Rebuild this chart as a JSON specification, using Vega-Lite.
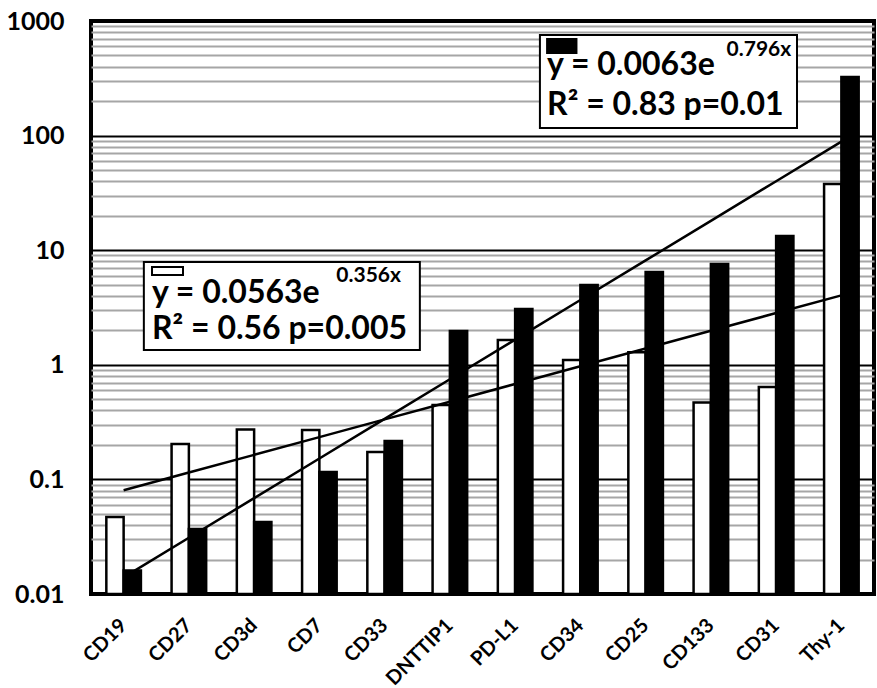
{
  "$schema": "https://vega.github.io/schema/vega-lite/v6.json",
  "width": 783,
  "height": 573,
  "autosize": {"type": "none"},
  "padding": {"left": 91, "top": 21, "right": 3, "bottom": 94},
  "background": "white",
  "config": {"view": {"stroke": "black", "strokeWidth": 4}, "font": "Lato"},
  "datasets": {
    "bars": [
      {"marker": "CD19", "series": "white", "value": 0.047},
      {"marker": "CD19", "series": "black", "value": 0.016},
      {"marker": "CD27", "series": "white", "value": 0.204},
      {"marker": "CD27", "series": "black", "value": 0.037},
      {"marker": "CD3d", "series": "white", "value": 0.272},
      {"marker": "CD3d", "series": "black", "value": 0.0425},
      {"marker": "CD7", "series": "white", "value": 0.27},
      {"marker": "CD7", "series": "black", "value": 0.116},
      {"marker": "CD33", "series": "white", "value": 0.173},
      {"marker": "CD33", "series": "black", "value": 0.216},
      {"marker": "DNTTIP1", "series": "white", "value": 0.446},
      {"marker": "DNTTIP1", "series": "black", "value": 1.97},
      {"marker": "PD-L1", "series": "white", "value": 1.645},
      {"marker": "PD-L1", "series": "black", "value": 3.07},
      {"marker": "CD34", "series": "white", "value": 1.1},
      {"marker": "CD34", "series": "black", "value": 4.97},
      {"marker": "CD25", "series": "white", "value": 1.29},
      {"marker": "CD25", "series": "black", "value": 6.45},
      {"marker": "CD133", "series": "white", "value": 0.47},
      {"marker": "CD133", "series": "black", "value": 7.58},
      {"marker": "CD31", "series": "white", "value": 0.64},
      {"marker": "CD31", "series": "black", "value": 13.3},
      {"marker": "Thy-1", "series": "white", "value": 37.8},
      {"marker": "Thy-1", "series": "black", "value": 324}
    ],
    "trend": [
      {"marker": "CD19", "series": "white", "value": 0.0804},
      {"marker": "CD27", "series": "white", "value": 0.1147},
      {"marker": "CD3d", "series": "white", "value": 0.1638},
      {"marker": "CD7", "series": "white", "value": 0.2339},
      {"marker": "CD33", "series": "white", "value": 0.3339},
      {"marker": "DNTTIP1", "series": "white", "value": 0.4767},
      {"marker": "PD-L1", "series": "white", "value": 0.6805},
      {"marker": "CD34", "series": "white", "value": 0.9715},
      {"marker": "CD25", "series": "white", "value": 1.387},
      {"marker": "CD133", "series": "white", "value": 1.98},
      {"marker": "CD31", "series": "white", "value": 2.827},
      {"marker": "Thy-1", "series": "white", "value": 4.036},
      {"marker": "CD19", "series": "black", "value": 0.01397},
      {"marker": "CD27", "series": "black", "value": 0.03096},
      {"marker": "CD3d", "series": "black", "value": 0.06862},
      {"marker": "CD7", "series": "black", "value": 0.1521},
      {"marker": "CD33", "series": "black", "value": 0.3372},
      {"marker": "DNTTIP1", "series": "black", "value": 0.7475},
      {"marker": "PD-L1", "series": "black", "value": 1.657},
      {"marker": "CD34", "series": "black", "value": 3.673},
      {"marker": "CD25", "series": "black", "value": 8.142},
      {"marker": "CD133", "series": "black", "value": 18.05},
      {"marker": "CD31", "series": "black", "value": 40.0},
      {"marker": "Thy-1", "series": "black", "value": 88.7}
    ],
    "boxes": [
      {"series": "black", "x0": 6.88, "x1": 10.82, "y0": 755, "y1": 116.5},
      {"series": "white", "x0": 0.81, "x1": 5.04, "y0": 7.89, "y1": 1.346}
    ],
    "swatches": [
      {"series": "black", "x0": 6.99, "x1": 7.44, "y0": 697, "y1": 526},
      {"series": "white", "x0": 0.935, "x1": 1.41, "y0": 7.13, "y1": 6.08}
    ],
    "texts": [
      {"label": "y = 0.0063e", "px": 6.99, "v": 338},
      {"label": "R² = 0.83 p=0.01", "px": 6.99, "v": 151},
      {"label": "y = 0.0563e", "px": 0.935, "v": 3.46},
      {"label": "R² = 0.56 p=0.005", "px": 0.935, "v": 1.68}
    ],
    "sups": [
      {"label": "0.796x", "px": 9.74, "v": 495},
      {"label": "0.356x", "px": 3.76, "v": 5.28}
    ]
  },
  "layer": [
    {
      "data": {"name": "bars"},
      "mark": {"type": "bar", "stroke": "black", "strokeWidth": 2.5},
      "encoding": {
        "x": {
          "field": "marker", "type": "nominal",
          "sort": ["CD19", "CD27", "CD3d", "CD7", "CD33", "DNTTIP1", "PD-L1", "CD34", "CD25", "CD133", "CD31", "Thy-1"],
          "scale": {"paddingInner": 0.47, "paddingOuter": 0.235},
          "axis": {"title": null, "domain": false, "ticks": false, "grid": false, "labelAngle": -45, "labelAlign": "right", "labelBaseline": "middle", "labelFont": "Lato", "labelFontWeight": "bold", "labelFontSize": 20, "labelColor": "black", "labelPadding": 28}
        },
        "xOffset": {"field": "series", "type": "nominal", "sort": ["white", "black"], "scale": {"paddingInner": 0, "paddingOuter": 0}},
        "y": {
          "field": "value", "type": "quantitative",
          "scale": {"type": "log", "domain": [0.01, 1000], "nice": false},
          "axis": {
            "title": null,
            "values": [0.01,0.02,0.03,0.04,0.05,0.06,0.07,0.08,0.09,0.1,0.2,0.3,0.4,0.5,0.6,0.7,0.8,0.9,1,2,3,4,5,6,7,8,9,10,20,30,40,50,60,70,80,90,100,200,300,400,500,600,700,800,900,1000],
            "grid": true,
            "gridColor": {"condition": {"test": "abs(log(datum.value)/LN10 - round(log(datum.value)/LN10)) < 0.001", "value": "black"}, "value": "#a6a6a6"},
            "gridWidth": 2,
            "ticks": false,
            "domain": false,
            "labelExpr": "abs(log(datum.value)/LN10 - round(log(datum.value)/LN10)) < 0.001 ? format(datum.value, '~g') : ''",
            "labelOverlap": false,
            "labelFont": "Lato", "labelFontWeight": "bold", "labelFontSize": 25, "labelColor": "black", "labelPadding": 27, "labelBaseline": "middle"
          }
        },
        "y2": {"datum": 0.01},
        "fill": {"field": "series", "type": "nominal", "scale": {"domain": ["white", "black"], "range": ["white", "black"]}, "legend": null}
      }
    },
    {
      "data": {"name": "trend"},
      "mark": {"type": "line", "color": "black", "strokeWidth": 2.5},
      "encoding": {
        "x": {"field": "marker", "type": "nominal", "sort": ["CD19", "CD27", "CD3d", "CD7", "CD33", "DNTTIP1", "PD-L1", "CD34", "CD25", "CD133", "CD31", "Thy-1"], "axis": null},
        "y": {"field": "value", "type": "quantitative"},
        "detail": {"field": "series"}
      }
    },
    {
      "data": {"name": "boxes"},
      "mark": {"type": "rect", "fill": "white", "stroke": "black", "strokeWidth": 2},
      "encoding": {
        "x": {"field": "x0", "type": "quantitative", "scale": {"domain": [0, 12], "nice": false, "zero": false}, "axis": null},
        "x2": {"field": "x1"},
        "y": {"field": "y0", "type": "quantitative"},
        "y2": {"field": "y1"}
      }
    },
    {
      "data": {"name": "texts"},
      "mark": {"type": "text", "align": "left", "baseline": "alphabetic", "font": "Lato", "fontWeight": "bold", "fontSize": 32, "color": "black"},
      "encoding": {
        "x": {"field": "px", "type": "quantitative", "scale": {"domain": [0, 12], "nice": false, "zero": false}, "axis": null},
        "y": {"field": "v", "type": "quantitative"},
        "text": {"field": "label"}
      }
    },
    {
      "data": {"name": "sups"},
      "mark": {"type": "text", "align": "left", "baseline": "alphabetic", "font": "Lato", "fontWeight": "bold", "fontSize": 21, "color": "black"},
      "encoding": {
        "x": {"field": "px", "type": "quantitative", "scale": {"domain": [0, 12], "nice": false, "zero": false}, "axis": null},
        "y": {"field": "v", "type": "quantitative"},
        "text": {"field": "label"}
      }
    },
    {
      "data": {"name": "swatches"},
      "mark": {"type": "rect", "stroke": "black", "strokeWidth": 2},
      "encoding": {
        "x": {"field": "x0", "type": "quantitative", "scale": {"domain": [0, 12], "nice": false, "zero": false}, "axis": null},
        "x2": {"field": "x1"},
        "y": {"field": "y0", "type": "quantitative"},
        "y2": {"field": "y1"},
        "fill": {"field": "series", "type": "nominal", "legend": null}
      }
    }
  ],
  "resolve": {"scale": {"x": "independent"}, "axis": {"x": "independent"}}
}
